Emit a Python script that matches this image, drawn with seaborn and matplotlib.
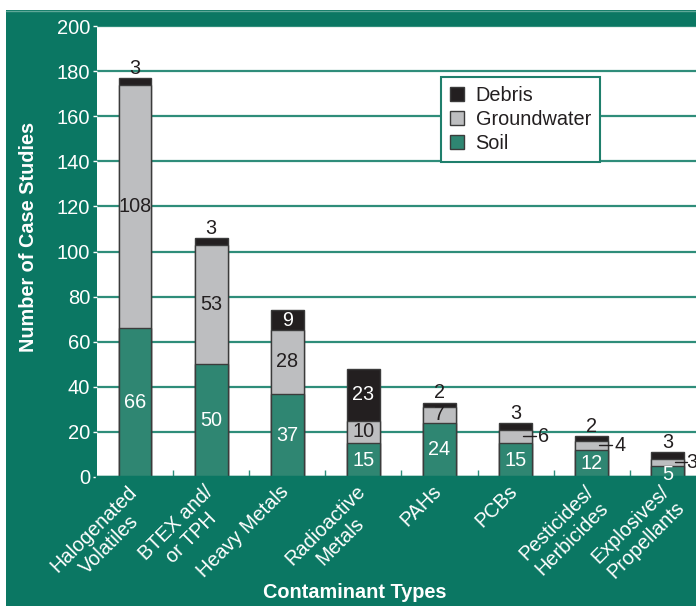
import numpy as np
import pandas as pd
import matplotlib
matplotlib.use("Agg")
import matplotlib.pyplot as plt
import matplotlib.transforms as mtransforms
from matplotlib.patches import Patch, Rectangle
from matplotlib.lines import Line2D
import seaborn as sns

# Case-study counts per contaminant type, split by medium
categories = ["Halogenated\nVolatiles", "BTEX and/\nor TPH", "Heavy Metals",
              "Radioactive\nMetals", "PAHs", "PCBs",
              "Pesticides/\nHerbicides", "Explosives/\nPropellants"]
soil = [66, 50, 37, 15, 24, 15, 12, 5]
groundwater = [108, 53, 28, 10, 7, 6, 4, 3]
debris = [3, 3, 9, 23, 2, 3, 2, 3]
y_ticks = list(range(0, 201, 20))

TEAL_BG = "#0b7763"
SOIL = "#2f8672"
GW = "#bdbec0"
DEBRIS = "#231f20"
GRID = "#2f8d7a"
EDGE = "#3b3b3b"
FS = 14.3

sns.set_theme(style="white")
plt.rcParams["font.family"] = ["Liberation Sans", "DejaVu Sans"]

df = pd.DataFrame({"category": categories, "soil": soil,
                   "groundwater": groundwater, "debris": debris})
df["soil_gw"] = df["soil"] + df["groundwater"]
df["total"] = df["soil_gw"] + df["debris"]

W, H = 696, 606
fig = plt.figure(figsize=(W / 100, H / 100), dpi=100)
fig.patch.set_facecolor("white")
fig.add_artist(Rectangle((6 / W, 0), 1, (H - 10) / H, transform=fig.transFigure,
                         facecolor=TEAL_BG, edgecolor="none", zorder=-2))
fig.add_artist(Line2D([6 / W, 1], [(H - 10.5) / H] * 2, transform=fig.transFigure,
                      color="#5fa898", lw=1, zorder=-1))

ax = fig.add_axes([97 / W, 129 / H, 599 / W, 451 / H])
ax.set_facecolor("white")

# Stacked bars: draw cumulative totals back to front
for col, color in [("total", DEBRIS), ("soil_gw", GW), ("soil", SOIL)]:
    sns.barplot(data=df, x="category", y=col, order=categories, color=color,
                saturation=1, width=0.43, edgecolor=EDGE, linewidth=1,
                errorbar=None, ax=ax)

ax.set_xlim(-0.5, 7.37)
ax.set_ylim(0, 200)
ax.set_yticks(y_ticks)
ax.yaxis.grid(True, color=GRID, lw=1.6)
ax.xaxis.grid(False)
ax.set_axisbelow(True)

for s in ax.spines.values():
    s.set_visible(False)
ax.spines["bottom"].set_visible(True)
ax.spines["bottom"].set_color(TEAL_BG)
ax.spines["bottom"].set_linewidth(2.5)

ax.tick_params(axis="y", left=True, colors="white", labelsize=14.5,
               length=3, width=1, pad=2)
ax.set_xticks(range(len(categories)))
ax.set_xticklabels(categories, rotation=45, ha="right", rotation_mode="anchor",
                   multialignment="center")
ax.tick_params(axis="x", which="major", length=0, labelsize=FS,
               labelcolor="white", pad=5)
shift = mtransforms.ScaledTranslation(-8 / 100, 2 / 100, fig.dpi_scale_trans)
for lbl in ax.get_xticklabels():
    lbl.set_transform(lbl.get_transform() + shift)
ax.set_xticks(np.arange(0.5, len(categories) - 1, 1), minor=True)
ax.tick_params(axis="x", which="minor", bottom=True, direction="in",
               length=5, width=1, color=GRID)
ax.set_xlabel("")
ax.set_ylabel("")

fig.text(29 / W, (H - 237) / H, "Number of Case Studies", rotation=90,
         color="white", fontsize=FS, fontweight="bold", ha="center", va="center")
fig.text(355 / W, (H - 592) / H, "Contaminant Types", color="white",
         fontsize=FS, fontweight="bold", ha="center", va="center")

# Value labels
soil_y = np.array(soil, dtype=float) / 2
soil_y[-1] = 1.0
for i, v in enumerate(soil):
    ax.text(i, soil_y[i], str(v), color="white", fontsize=FS,
            ha="center", va="center")

last = len(categories) - 1
for i, v in enumerate(groundwater):
    yc = soil[i] + v / 2
    if v >= 7:
        ax.text(i, yc, str(v), color=DEBRIS, fontsize=FS, ha="center", va="center")
    else:
        end = 0.25 if i == last else 0.27
        tx = 0.235 if i == last else 0.3
        ax.plot([i + 0.1, i + end], [yc, yc], color=DEBRIS, lw=1, zorder=5)
        ax.text(i + tx, yc, str(v), color=DEBRIS, fontsize=FS,
                ha="left", va="center")

for i, v in enumerate(debris):
    base = soil[i] + groundwater[i]
    if v >= 9:
        ax.text(i, base + v / 2, str(v), color="white", fontsize=FS,
                ha="center", va="center")
    else:
        ax.annotate(str(v), (i, base + v), xytext=(0, 3), textcoords="offset points",
                    color=DEBRIS, fontsize=FS, ha="center", va="baseline")

handles = [Patch(facecolor=DEBRIS, edgecolor=EDGE, lw=1, label="Debris"),
           Patch(facecolor=GW, edgecolor=EDGE, lw=1, label="Groundwater"),
           Patch(facecolor=SOIL, edgecolor=EDGE, lw=1, label="Soil")]
leg = ax.legend(handles=handles, loc="upper left", bbox_to_anchor=(0.574, 0.887),
                fontsize=FS, frameon=True, fancybox=False, framealpha=1,
                handlelength=0.7, handleheight=0.7, handletextpad=0.6,
                labelspacing=0.25, borderpad=0.45, borderaxespad=0)
leg.get_frame().set_edgecolor("#1f7f6c")
leg.get_frame().set_linewidth(1.5)
for t in leg.get_texts():
    t.set_color(DEBRIS)

fig.savefig("out.png", dpi=100)
